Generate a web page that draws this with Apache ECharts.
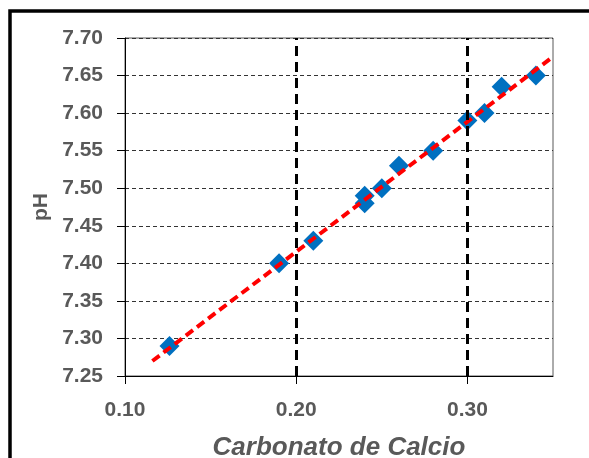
<!DOCTYPE html>
<html>
<head>
<meta charset="utf-8">
<script src="https://cdn.jsdelivr.net/npm/echarts@6/dist/echarts.min.js"></script>
<style>
  html, body { margin: 0; padding: 0; background: #fff; }
  #chart { width: 589px; height: 458px; }
</style>
</head>
<body>
<div id="chart"></div>
<script>
// datos medidos (carbonato de calcio vs pH)
var carbonato = [0.126, 0.19, 0.21, 0.24, 0.24, 0.25, 0.26, 0.28, 0.30, 0.31, 0.32, 0.34]
var ph = [7.29, 7.40, 7.43, 7.48, 7.49, 7.50, 7.53, 7.55, 7.59, 7.60, 7.635, 7.65]

// linea de tendencia (extremos)
var tendX = [0.116, 0.35]
var tendY = [7.27, 7.675]

// ejes
var xTicks = [0.1, 0.2, 0.3]
var xGuias = [0.2, 0.3]
var yMin = 7.25
var yMax = 7.70
var yPaso = 0.05

var gris = '#595959'
var fuente = '"Liberation Sans", Arial, sans-serif'

var chart = echarts.init(document.getElementById('chart'))
chart.setOption({
  animation: false,
  backgroundColor: '#fff',
  textStyle: { fontFamily: fuente },
  graphic: [{
    type: 'rect',
    shape: { x: 10, y: 11, width: 700, height: 600 },
    style: { fill: 'none', stroke: '#000', lineWidth: 3.5 },
    silent: true
  }],
  grid: {
    left: 125,
    top: 38,
    right: 36,
    bottom: 82,
    outerBoundsMode: 'none',
    containLabel: false,
    show: true,
    borderColor: '#595959',
    borderWidth: 1,
    backgroundColor: 'transparent'
  },
  xAxis: {
    type: 'value',
    min: 0.1,
    max: 0.35,
    interval: 0.1,
    name: 'Carbonato de Calcio',
    nameLocation: 'middle',
    nameGap: 59,
    nameTextStyle: { color: gris, fontSize: 26, fontWeight: 'bold', fontStyle: 'italic', fontFamily: fuente },
    axisLine: { lineStyle: { color: '#000', width: 1 } },
    axisTick: { show: true, length: 8, inside: false, customValues: xTicks, lineStyle: { color: '#000' } },
    axisLabel: {
      customValues: xTicks,
      color: gris,
      fontSize: 21,
      fontWeight: 'bold',
      margin: 24,
      formatter: function(v) { return v.toFixed(2) }
    },
    splitLine: { show: false }
  },
  yAxis: {
    type: 'value',
    min: yMin,
    max: yMax,
    interval: yPaso,
    name: 'pH',
    nameLocation: 'middle',
    nameGap: 70,
    nameTextStyle: { color: gris, fontSize: 21, fontWeight: 'bold', fontFamily: fuente },
    axisLine: { show: true, lineStyle: { color: '#000', width: 1 } },
    axisTick: { show: true, length: 8, inside: false, lineStyle: { color: '#000' } },
    axisLabel: {
      color: gris,
      fontSize: 21,
      fontWeight: 'bold',
      margin: 22,
      formatter: function(v) { return v.toFixed(2) }
    },
    splitLine: { show: true, lineStyle: { color: '#333', width: 1, type: [4, 3] } }
  },
  series: [
    {
      // guias verticales en 0.20 y 0.30
      type: 'line',
      data: [],
      markLine: {
        silent: true,
        symbol: 'none',
        label: { show: false },
        lineStyle: { color: '#000', width: 3, type: [10, 6] },
        data: xGuias.map(function(v) { return { xAxis: v } })
      }
    },
    {
      name: 'pH',
      type: 'scatter',
      symbol: 'diamond',
      symbolSize: 20,
      itemStyle: { color: '#0070C0', opacity: 1 },
      z: 3,
      data: carbonato.map(function(x, i) { return [x, ph[i]] })
    },
    {
      name: 'Tendencia',
      type: 'line',
      symbol: 'none',
      z: 4,
      lineStyle: { color: '#FF0000', width: 4, type: [9, 5] },
      data: tendX.map(function(x, i) { return [x, tendY[i]] })
    }
  ]
})
</script>
</body>
</html>
